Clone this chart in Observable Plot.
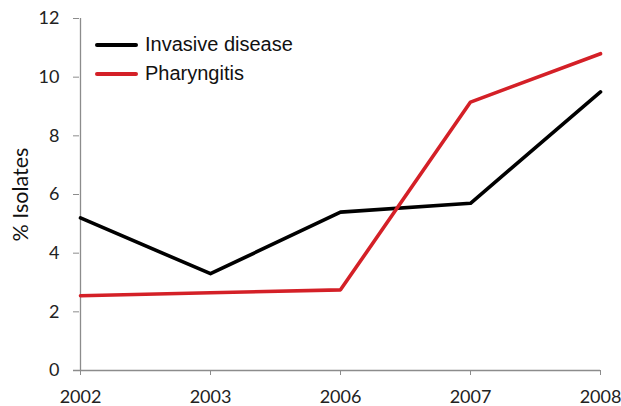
<!DOCTYPE html>
<html>
<head>
<meta charset="utf-8">
<script src="https://cdn.jsdelivr.net/npm/d3@7"></script>
<script src="https://cdn.jsdelivr.net/npm/@observablehq/plot@0.6"></script>
<style>
  html, body { margin: 0; padding: 0; background: #fff; }
  #wrap { position: relative; width: 621px; height: 406px; }
  #wrap svg g[aria-label*="tick label"], #wrap svg g[aria-label*="tick label"] text { font-size: 18px; font-family: Lato, "Open Sans", sans-serif; fill: #222; }
  #wrap svg g[aria-label="text"], #wrap svg g[aria-label="text"] text { font-size: 21.5px; font-family: Lato, "Open Sans", sans-serif; fill: #111; }
  .legend { position: absolute; left: 95px; top: 30px; font-family: "Liberation Sans", Arial, sans-serif; font-size: 20px; color: #111; }
  .legend .row { display: flex; align-items: center; height: 29px; }
  .legend .sw { width: 43px; height: 4px; border-radius: 2px; margin-right: 7px; }
</style>
</head>
<body>
<div id="wrap"></div>
<script>
const years = ["2002", "2003", "2006", "2007", "2008"];
const invasive = [5.2, 3.3, 5.4, 5.7, 9.5];
const pharyngitis = [2.55, 2.65, 2.75, 9.15, 10.8];
const seriesNames = ["Invasive disease", "Pharyngitis"];
const seriesColors = ["#000000", "#d42027"];
const yTicks = [0, 2, 4, 6, 8, 10, 12];

const data = [];
years.forEach((y, i) => {
  data.push({year: y, value: invasive[i], series: seriesNames[0]});
  data.push({year: y, value: pharyngitis[i], series: seriesNames[1]});
});

const chart = Plot.plot({
  width: 621,
  height: 406,
  marginLeft: 79,
  marginRight: 21,
  marginTop: 18,
  marginBottom: 36,
  style: {fontFamily: "Lato, 'Open Sans', sans-serif", fontSize: "18px", color: "#222", background: "white", overflow: "visible"},
  x: {type: "point", domain: years, padding: 0},
  y: {domain: [0, 12]},
  color: {domain: seriesNames, range: seriesColors},
  marks: [
    Plot.ruleX([years[0]], {stroke: "#8c8c8c", strokeWidth: 1.3}),
    Plot.ruleY([0], {stroke: "#8c8c8c", strokeWidth: 1.3, insetLeft: -6}),
    Plot.axisY({ticks: yTicks, tickSize: 6, tickPadding: 14, stroke: "#8c8c8c", label: null, fontSize: 18}),
    Plot.axisX({tickSize: 5, tickPadding: 15, stroke: "#8c8c8c", label: null, fontSize: 18}),
    Plot.text(["% Isolates"], {frameAnchor: "left", dx: -58, rotate: -90, textAnchor: "middle", fontSize: 21.5, fill: "#111"}),
    Plot.line(data, {x: "year", y: "value", z: "series", stroke: "series", strokeWidth: 3.6})
  ]
});

const wrap = document.getElementById("wrap");
wrap.appendChild(chart);
const legend = document.createElement("div");
legend.className = "legend";
seriesNames.forEach((n, i) => {
  const row = document.createElement("div");
  row.className = "row";
  const sw = document.createElement("div");
  sw.className = "sw";
  sw.style.background = seriesColors[i];
  const t = document.createElement("span");
  t.textContent = n;
  row.appendChild(sw); row.appendChild(t);
  legend.appendChild(row);
});
wrap.appendChild(legend);
</script>
</body>
</html>
